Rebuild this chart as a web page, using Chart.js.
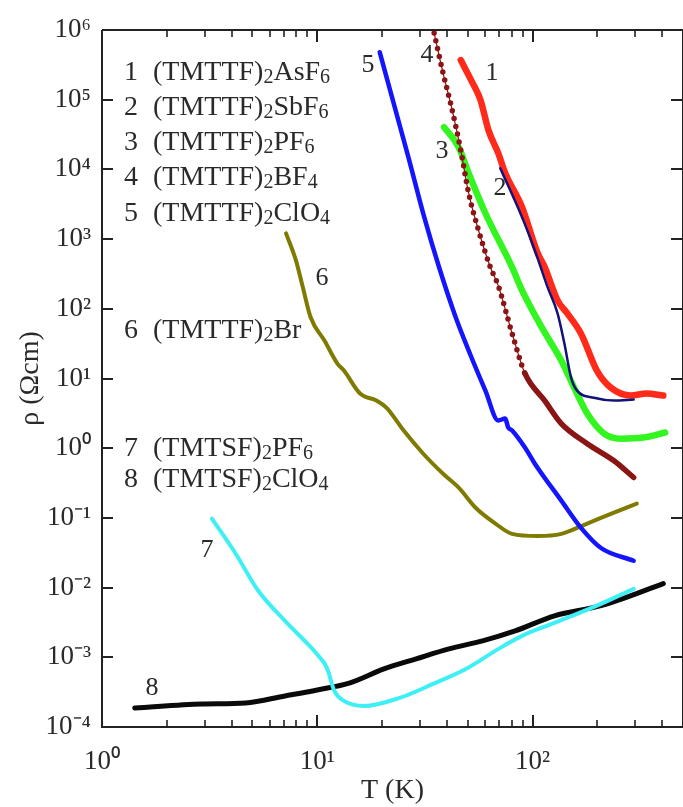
<!DOCTYPE html>
<html><head><meta charset="utf-8">
<script src="https://cdn.jsdelivr.net/npm/chart.js@4.4.1/dist/chart.umd.min.js"></script>
<style>html,body{margin:0;padding:0;background:#fff;overflow:hidden}#wrap{width:683px;height:807px;position:relative}</style>
</head><body><div id="wrap"><canvas id="c" width="683" height="807"></canvas></div>
<script>
// ---------- data ----------
const seriesNames = ['(TMTTF)_2AsF_6','(TMTTF)_2SbF_6','(TMTTF)_2PF_6','(TMTTF)_2BF_4','(TMTTF)_2ClO_4','(TMTTF)_2Br','(TMTSF)_2PF_6','(TMTSF)_2ClO_4'];
const seriesNumbers = ['1','2','3','4','5','6','7','8'];

const T1 = [46.4, 52.7, 57.3, 62.4, 69.3, 74.7, 89.4, 105.7, 114, 130.7, 145, 168, 199, 231, 286, 338, 405];
const R1 = [3.7e5, 1.73e5, 9.9e4, 3.66e4, 1.71e4, 8.8e3, 2.87e3, 625, 394, 132, 86, 44, 13, 7.4, 5.7, 6.1, 5.7];

const T2 = [70.8, 89.4, 102.5, 117.6, 130.7, 140.6, 151, 161, 193, 239, 295];
const R2 = [1.04e4, 2.06e3, 690, 203, 86, 31.8, 10.3, 6.7, 5.3, 4.83, 5.0];

const T3 = [38.8, 45.4, 50.5, 60.4, 80.4, 89.4, 110.4, 136, 156, 179.5, 215, 257, 327, 413];
const R3 = [4.04e4, 2.08e4, 8.8e3, 2.35e3, 394, 184, 54, 18.1, 7.4, 3.14, 1.62, 1.37, 1.42, 1.68];

const T4 = [34.9, 38.4, 41.8, 46.4, 50.5, 56.1, 63.7, 69.3, 80.4, 92.2, 113.9, 136, 179.5, 239, 295];
const R4 = [9.06e5, 2.41e5, 8.4e4, 1.89e4, 4.55e3, 1.34e3, 394, 215, 44, 11.8, 4.8, 2.25, 1.16, 0.66, 0.38];

const T5 = [19.5, 26.5, 31.4, 36.8, 44.0, 51.6, 60.4, 69.3, 74.7, 77.0, 80.4, 92.2, 102.5, 136, 168, 208, 295];
const R5 = [4.8e5, 1.5e4, 2.06e3, 394, 75, 21.4, 6.7, 2.5, 2.66, 2.0, 1.79, 1.02, 0.60, 0.177, 0.072, 0.037, 0.0243];

const T6 = [7.16, 7.96, 8.57, 9.32, 10.8, 12.4, 13.3, 15.8, 18.9, 21, 25.2, 31, 38.4, 45.5, 54.4, 67.2, 80.4, 105.7, 136, 179.5, 239, 305];
const R6 = [1.21e3, 496, 203, 75, 35, 16.4, 13, 6.1, 4.8, 3.8, 1.79, 0.84, 0.43, 0.27, 0.14, 0.083, 0.059, 0.055, 0.059, 0.083, 0.119, 0.16];

const T7 = [3.24, 4.18, 5.32, 7.08, 9.02, 10.0, 11.1, 12.0, 13.3, 16.5, 24.1, 34.5, 49.0, 69.5, 89.4, 126.5, 208, 295];
const R7 = [0.0975, 0.0306, 9.0e-3, 3.33e-3, 1.56e-3, 1.1e-3, 7.0e-4, 3.3e-4, 2.37e-4, 2.0e-4, 2.61e-4, 4.15e-4, 6.8e-4, 1.32e-3, 2.03e-3, 3.12e-3, 5.85e-3, 9.6e-3];

const T8 = [1.42, 2.92, 4.64, 7.08, 10.0, 14.2, 20.4, 28.8, 40.9, 58.6, 83, 126.5, 208, 405];
const R8 = [1.87e-4, 2.14e-4, 2.21e-4, 2.79e-4, 3.4e-4, 4.3e-4, 6.8e-4, 9.5e-4, 1.32e-3, 1.72e-3, 2.39e-3, 3.94e-3, 5.5e-3, 0.0114];

const yTickValues = [1e-4, 1e-3, 1e-2, 1e-1, 1, 10, 100, 1e3, 1e4, 1e5, 1e6];
const yTickLabels = ['10⁻⁴','10⁻³','10⁻²','10⁻¹','10⁰','10¹','10²','10³','10⁴','10⁵','10⁶'];
const xMajorValues = [1, 10, 100];
const xMajorLabels = ['10⁰','10¹','10²'];
const xMinorValues = [2,3,4,5,6,7,8,9,20,30,40,50,60,70,80,90,200,300,400];
const xTitle = 'T (K)';
const yTitle = 'ρ (Ωcm)';

// ---------- chart ----------
const pts = (T, R) => T.map((t, i) => ({x: t, y: R[i]}));
const FONT = 'Liberation Serif';
const TXT = '#2a2a2a';

const xTicks = xMajorValues.map((v, i) => ({value: v, major: true, label: xMajorLabels[i]}))
  .concat(xMinorValues.map(v => ({value: v, major: false, label: ''})))
  .sort((a, b) => a.value - b.value);

function ds(T, R, color, width, order, extra) {
  return Object.assign({
    data: pts(T, R), borderColor: color, backgroundColor: color, borderWidth: width,
    pointRadius: 0, cubicInterpolationMode: 'monotone', order: order,
    borderCapStyle: 'round', borderJoinStyle: 'round', fill: false
  }, extra || {});
}

const datasets = [
  ds(T8, R8, '#0a0a0a', 5, 9),
  ds(T7, R7, '#3ef0f5', 4, 8),
  ds(T6, R6, '#7f7a00', 4, 7),
  ds(T3, R3, '#33f51f', 6.5, 6),
  ds(T1, R1, '#ff2a1a', 6.5, 5),
  ds(T2, R2, '#12127a', 2.5, 4),
  ds(T4, R4, '#8b1414', 1.2, 3),
  ds(T4, R4, '#8b1414', 5.5, 2, {segment: {
      borderDash: c => (c.p1.parsed.x < 100 ? [0, 8] : undefined)
  }}),
  ds(T5, R5, '#1414ff', 4.5, 1)
];

const annotRows = [
  {i: 0, y: 80}, {i: 1, y: 115}, {i: 2, y: 150}, {i: 3, y: 185}, {i: 4, y: 221},
  {i: 5, y: 338}, {i: 6, y: 456}, {i: 7, y: 487}
];
const curveLabels = [
  {i: 0, x: 492, y: 80}, {i: 1, x: 500, y: 195}, {i: 2, x: 442, y: 158}, {i: 3, x: 427, y: 62},
  {i: 4, x: 368, y: 72}, {i: 5, x: 322, y: 285}, {i: 6, x: 207, y: 557}, {i: 7, x: 152, y: 695}
];

function drawChem(ctx, text, x, y, size, subSize) {
  const parts = text.split(/_(\d)/);
  let cx = x;
  parts.forEach((p, k) => {
    if (!p) return;
    const sub = k % 2 === 1;
    ctx.font = (sub ? subSize : size) + 'px "' + FONT + '"';
    ctx.fillText(p, cx, sub ? y + 3 : y);
    cx += ctx.measureText(p).width;
  });
}

const framePlugin = {
  id: 'frame',
  afterDatasetsDraw(chart) {
    const ctx = chart.ctx, a = chart.chartArea, xs = chart.scales.x, ys = chart.scales.y;
    ctx.save();
    ctx.strokeStyle = '#222';
    ctx.lineCap = 'butt';
    ctx.lineWidth = 2;
    ctx.beginPath();
    ctx.moveTo(a.left, a.top); ctx.lineTo(a.left, a.bottom); ctx.lineTo(a.right, a.bottom);
    ctx.moveTo(a.left, a.top); ctx.lineTo(a.right, a.top);
    ctx.moveTo(a.right, a.top); ctx.lineTo(a.right, a.bottom);
    ctx.stroke();
    xs.ticks.forEach(t => {
      const px = Math.round(xs.getPixelForValue(t.value));
      const len = t.major ? 12 : 7;
      ctx.lineWidth = t.major ? 2 : 1.6;
      ctx.beginPath();
      ctx.moveTo(px, a.bottom); ctx.lineTo(px, a.bottom - len);
      ctx.moveTo(px, a.top); ctx.lineTo(px, a.top + len);
      ctx.stroke();
    });
    ctx.lineWidth = 2;
    ys.ticks.forEach(t => {
      const py = Math.round(ys.getPixelForValue(t.value));
      ctx.beginPath();
      ctx.moveTo(a.left, py); ctx.lineTo(a.left + 11, py);
      ctx.moveTo(a.right, py); ctx.lineTo(a.right - 12, py);
      ctx.stroke();
    });
    // annotations
    ctx.fillStyle = TXT;
    ctx.textBaseline = 'alphabetic';
    ctx.textAlign = 'left';
    annotRows.forEach(r => {
      ctx.font = '28px "' + FONT + '"';
      ctx.fillText(seriesNumbers[r.i], 124, r.y);
      drawChem(ctx, seriesNames[r.i], 153, r.y, 28, 20);
    });
    ctx.textAlign = 'center';
    ctx.font = '26px "' + FONT + '"';
    curveLabels.forEach(c => ctx.fillText(seriesNumbers[c.i], c.x, c.y));
    ctx.restore();
  }
};

new Chart(document.getElementById('c'), {
  type: 'line',
  data: {datasets: datasets},
  plugins: [framePlugin],
  options: {
    responsive: false, animation: false, devicePixelRatio: 1,
    layout: {padding: {top: 30, right: -7, left: 0, bottom: 0}},
    plugins: {legend: {display: false}, tooltip: {enabled: false}},
    scales: {
      x: {
        type: 'logarithmic', position: 'bottom', min: 1, max: 500,
        afterBuildTicks: s => { s.ticks = xTicks.map(t => ({value: t.value, major: t.major})); },
        afterFit: s => { s.height = 80; },
        grid: {display: false, drawTicks: false},
        border: {display: false},
        ticks: {
          autoSkip: false, maxRotation: 0, minRotation: 0, padding: 19, color: TXT,
          font: {family: FONT, size: 27},
          callback: (v, i) => xTicks[i] ? xTicks[i].label : ''
        },
        title: {display: true, text: xTitle, color: TXT, font: {family: FONT, size: 28}, padding: {top: 0, bottom: 0}}
      },
      y: {
        type: 'logarithmic', position: 'left', min: 1e-4, max: 1e6,
        afterBuildTicks: s => { s.ticks = yTickValues.map(v => ({value: v, major: true})); },
        afterFit: s => { s.width = 102; },
        grid: {display: false, drawTicks: false},
        border: {display: false},
        ticks: {
          autoSkip: false, padding: 11, color: TXT,
          font: {family: FONT, size: 27},
          callback: (v, i) => yTickLabels[i]
        },
        title: {display: true, text: yTitle, color: TXT, font: {family: FONT, size: 28}, padding: {top: 14, bottom: 0}}
      }
    }
  }
});
</script>
</body></html>
